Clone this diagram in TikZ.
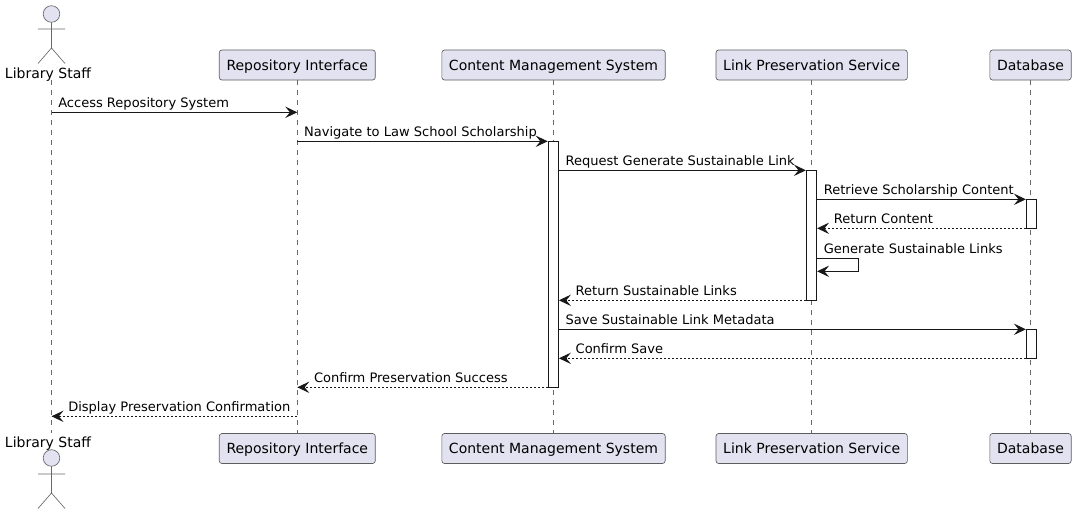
\documentclass[tikz,border=0pt]{standalone}
\usepackage{fontspec}
\setmainfont{DejaVu Sans}
\usetikzlibrary{arrows.meta,positioning}
\definecolor{partfill}{HTML}{E2E2F0}
\definecolor{partline}{HTML}{181818}
\tikzset{
 partbox/.style={draw=partline!70,fill=partfill,line width=0.5pt,rounded corners=2pt,minimum height=22.5pt,inner sep=0pt,text height=8.8pt,text depth=1pt,font=\fontsize{10.5}{12}\selectfont},
 actorname/.style={inner sep=0pt,text height=8.8pt,text depth=1pt,font=\fontsize{10.5}{12}\selectfont},
 actorbody/.style={draw=partline!65,line width=0.5pt},
 lifeline/.style={draw=partline!65,line width=0.5pt,dash pattern=on 3.75pt off 3.75pt},
 actbar/.style={draw=partline,fill=white,line width=0.6pt,minimum width=7.8pt,inner sep=0pt},
 msg/.style={draw=partline,line width=0.75pt,-{Stealth[length=9pt,width=8.5pt,inset=3.5pt]}},
 reply/.style={msg,dash pattern=on 1.5pt off 1.5pt},
 msgtext/.style={anchor=base west,inner sep=0pt,shift={(6.5,-5)},font=\fontsize{9.77}{11}\selectfont},
 replytext/.style={msgtext,shift={(10,0)}}
}
\begin{document}
\begin{tikzpicture}[x=0.75pt,y=-0.75pt]
 \useasboundingbox (0,0) rectangle (1076,514);
 \node[actorname] (staff_top) at (48,73.5) {Library Staff};
 \node[actorname] (staff_bot) at (48,442.5) {Library Staff};
 \node[partbox,minimum width=117pt] (repo_top) at (297.3,65) {Repository Interface};
 \node[partbox,minimum width=117pt] (repo_bot) at (297.3,448.5) {Repository Interface};
 \node[partbox,minimum width=167.5pt] (cms_top) at (553.5,65) {Content Management System};
 \node[partbox,minimum width=167.5pt] (cms_bot) at (553.5,448.5) {Content Management System};
 \node[partbox,minimum width=143.5pt] (lps_top) at (811.7,65) {Link Preservation Service};
 \node[partbox,minimum width=143.5pt] (lps_bot) at (811.7,448.5) {Link Preservation Service};
 \node[partbox,minimum width=61pt] (db_top) at (1030.5,65) {Database};
 \node[partbox,minimum width=61pt] (db_bot) at (1030.5,448.5) {Database};
 \coordinate (staff_line) at (51.5,80);
 \coordinate (staff_end) at (51.5,433);
 \draw[lifeline] (staff_line) -- (staff_end);
 \draw[lifeline] (repo_top.south) -- (repo_bot.north);
 \draw[lifeline] (cms_top.south) -- (cms_bot.north);
 \draw[lifeline] (lps_top.south) -- (lps_bot.north);
 \draw[lifeline] (db_top.south) -- (db_bot.north);
 \draw[actorbody,fill=partfill] (51.5,14) circle (8.3);
 \draw[actorbody] (51.5,22.3) -- (51.5,48) (38,29) -- (65,29) (38,63.5) -- (51.5,48) -- (65,63.5);
 \draw[actorbody,fill=partfill] (51.5,458) circle (8.3);
 \draw[actorbody] (51.5,466.3) -- (51.5,493) (38,474) -- (65,474) (38,508.5) -- (51.5,493) -- (65,508.5);
 \node[actbar,minimum height=184.5pt] (cms_act) at (553.3,264.3) {};
 \node[actbar,minimum height=97.5pt] (lps_act) at (811.5,235.3) {};
 \node[actbar,minimum height=21.75pt] (db_act1) at (1031.5,213.8) {};
 \node[actbar,minimum height=21.75pt] (db_act2) at (1031.5,343.8) {};
 \foreach \rowname/\rowy in {r1/112.3,r2/141.3,r3/170.3,r4/199.3,r5/228.3,r6/258.3,r7/271.3,r8/300.3,r9/329.3,r10/358.3,r11/387.3,r12/416.3}
  \coordinate (\rowname) at (0,\rowy);
 \coordinate (self_turn) at (858.3,0);
 \draw[msg] (staff_line |- r1) -- (repo_top |- r1);
 \node[msgtext] (m1) at (staff_line |- r1) {Access Repository System};
 \draw[msg] (repo_top |- r2) -- (cms_act.west |- r2);
 \node[msgtext] (m2) at (repo_top |- r2) {Navigate to Law School Scholarship};
 \draw[msg] (cms_act.east |- r3) -- (lps_act.west |- r3);
 \node[msgtext] (m3) at (cms_act.east |- r3) {Request Generate Sustainable Link};
 \draw[msg] (lps_act.east |- r4) -- (db_act1.west |- r4);
 \node[msgtext] (m4) at (lps_act.east |- r4) {Retrieve Scholarship Content};
 \draw[reply] (db_act1.west |- r5) -- (lps_act.east |- r5);
 \node[replytext] (m5) at (lps_act.east |- r5) {Return Content};
 \draw[msg] (lps_act.east |- r6) -| (self_turn |- r7) -- (lps_act.east |- r7);
 \node[msgtext] (m6) at (lps_act.east |- r6) {Generate Sustainable Links};
 \draw[reply] (lps_act.west |- r8) -- (cms_act.east |- r8);
 \node[replytext] (m7) at (cms_act.east |- r8) {Return Sustainable Links};
 \draw[msg] (cms_act.east |- r9) -- (db_act2.west |- r9);
 \node[msgtext] (m8) at (cms_act.east |- r9) {Save Sustainable Link Metadata};
 \draw[reply] (db_act2.west |- r10) -- (cms_act.east |- r10);
 \node[replytext] (m9) at (cms_act.east |- r10) {Confirm Save};
 \draw[reply] (cms_act.west |- r11) -- (repo_top |- r11);
 \node[replytext] (m10) at (repo_top |- r11) {Confirm Preservation Success};
 \draw[reply] (repo_top |- r12) -- (staff_line |- r12);
 \node[replytext] (m11) at (staff_line |- r12) {Display Preservation Confirmation};
\end{tikzpicture}
\end{document}
